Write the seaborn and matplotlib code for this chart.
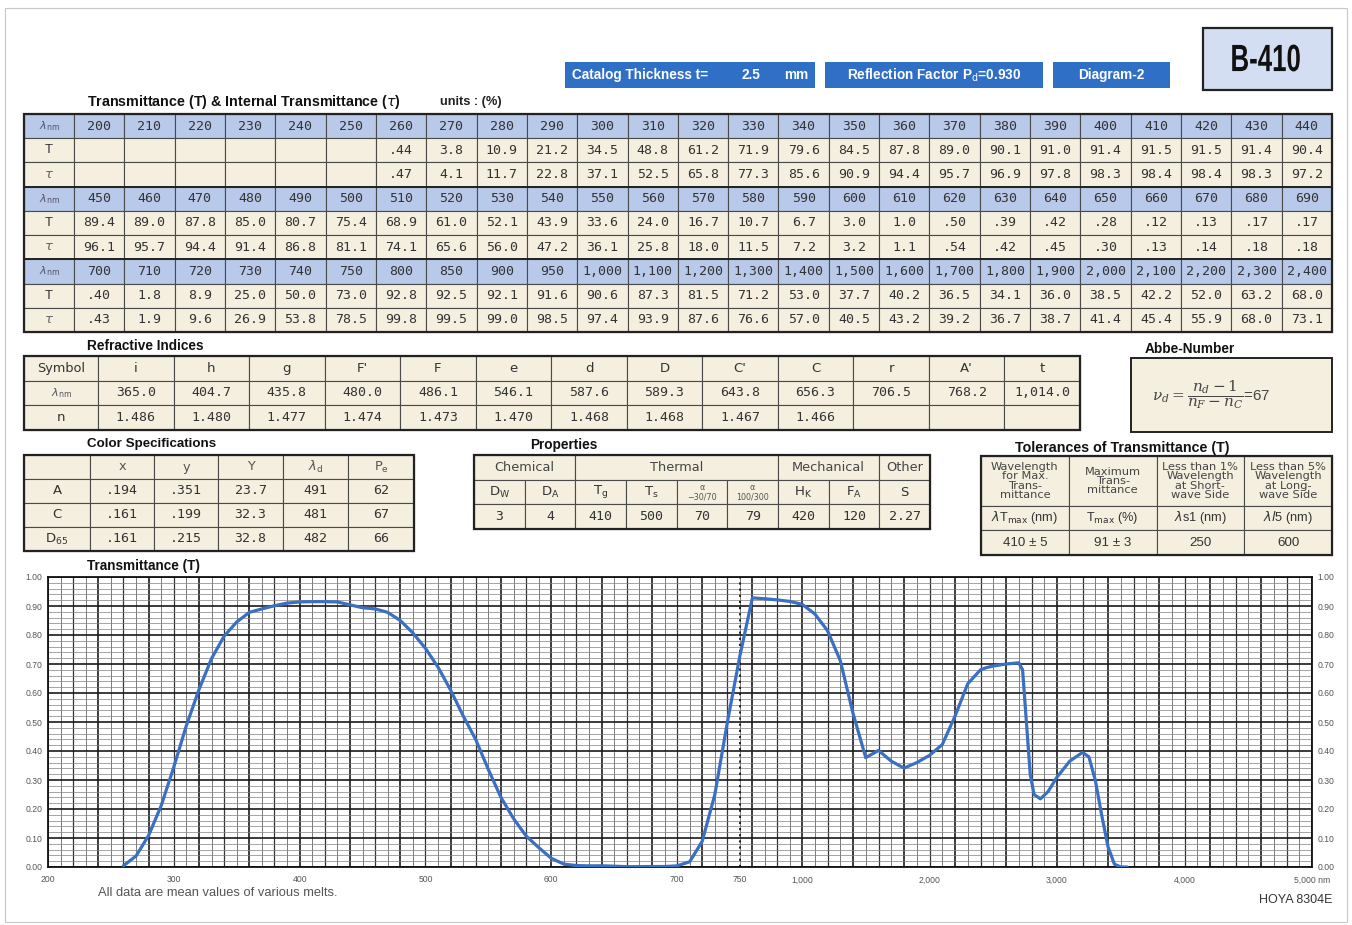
import numpy as np
import pandas as pd
import matplotlib
matplotlib.use("Agg")
import matplotlib.pyplot as plt
import seaborn as sns
from matplotlib.patches import Rectangle, PathPatch
from matplotlib.textpath import TextPath
from matplotlib.font_manager import FontProperties
from matplotlib.transforms import Affine2D

# ---------------- data ----------------
WL_ROWS = [
    [200, 210, 220, 230, 240, 250, 260, 270, 280, 290, 300, 310, 320,
     330, 340, 350, 360, 370, 380, 390, 400, 410, 420, 430, 440],
    [450, 460, 470, 480, 490, 500, 510, 520, 530, 540, 550, 560, 570,
     580, 590, 600, 610, 620, 630, 640, 650, 660, 670, 680, 690],
    [700, 710, 720, 730, 740, 750, 800, 850, 900, 950, 1000, 1100, 1200,
     1300, 1400, 1500, 1600, 1700, 1800, 1900, 2000, 2100, 2200, 2300, 2400],
]
T_ROWS = [
    [None, None, None, None, None, None, .44, 3.8, 10.9, 21.2, 34.5, 48.8, 61.2,
     71.9, 79.6, 84.5, 87.8, 89.0, 90.1, 91.0, 91.4, 91.5, 91.5, 91.4, 90.4],
    [89.4, 89.0, 87.8, 85.0, 80.7, 75.4, 68.9, 61.0, 52.1, 43.9, 33.6, 24.0, 16.7,
     10.7, 6.7, 3.0, 1.0, .50, .39, .42, .28, .12, .13, .17, .17],
    [.40, 1.8, 8.9, 25.0, 50.0, 73.0, 92.8, 92.5, 92.1, 91.6, 90.6, 87.3, 81.5,
     71.2, 53.0, 37.7, 40.2, 36.5, 34.1, 36.0, 38.5, 42.2, 52.0, 63.2, 68.0],
]
TAU_ROWS = [
    [None, None, None, None, None, None, .47, 4.1, 11.7, 22.8, 37.1, 52.5, 65.8,
     77.3, 85.6, 90.9, 94.4, 95.7, 96.9, 97.8, 98.3, 98.4, 98.4, 98.3, 97.2],
    [96.1, 95.7, 94.4, 91.4, 86.8, 81.1, 74.1, 65.6, 56.0, 47.2, 36.1, 25.8, 18.0,
     11.5, 7.2, 3.2, 1.1, .54, .42, .45, .30, .13, .14, .18, .18],
    [.43, 1.9, 9.6, 26.9, 53.8, 78.5, 99.8, 99.5, 99.0, 98.5, 97.4, 93.9, 87.6,
     76.6, 57.0, 40.5, 43.2, 39.2, 36.7, 38.7, 41.4, 45.4, 55.9, 68.0, 73.1],
]
# curve beyond the table (nm, %)
IR_WL = [2450, 2500, 2600, 2700, 2730, 2760, 2790, 2820, 2870, 2930, 3000,
         3100, 3200, 3250, 3300, 3350, 3400, 3450, 3500, 3550]
IR_T = [68.8, 69.3, 70.0, 70.4, 68.0, 50.0, 32.0, 25.0, 23.5, 26.0, 31.0,
        36.5, 39.5, 38.0, 30.0, 18.0, 7.0, 1.0, 0.0, 0.0]

RI_SYMBOLS = ["i", "h", "g", "F'", "F", "e", "d", "D", "C'", "C", "r", "A'", "t"]
RI_WL = ["365.0", "404.7", "435.8", "480.0", "486.1", "546.1", "587.6",
         "589.3", "643.8", "656.3", "706.5", "768.2", "1,014.0"]
RI_N = ["1.486", "1.480", "1.477", "1.474", "1.473", "1.470", "1.468",
        "1.468", "1.467", "1.466", "", "", ""]

CS_HEAD = ["", "x", "y", "Y", r"$\lambda_{\rm d}$", r"P$_{\rm e}$"]
CS_ROWS = [
    ["A", ".194", ".351", "23.7", "491", "62"],
    ["C", ".161", ".199", "32.3", "481", "67"],
    [r"D$_{65}$", ".161", ".215", "32.8", "482", "66"],
]

PROP_GROUPS = [("Chemical", 2), ("Thermal", 4), ("Mechanical", 2), ("Other", 1)]
PROP_HEAD = [r"D$_{\rm W}$", r"D$_{\rm A}$", r"T$_{\rm g}$", r"T$_{\rm s}$",
             "α\n−30/70", "α\n100/300", r"H$_{\rm K}$", r"F$_{\rm A}$", "S"]
PROP_VALS = ["3", "4", "410", "500", "70", "79", "420", "120", "2.27"]

TOL_HEAD = ["Wavelength\nfor Max.\nTrans-\nmittance", "Maximum\nTrans-\nmittance",
            "Less than 1%\nWavelength\nat Short-\nwave Side",
            "Less than 5%\nWavelength\nat Long-\nwave Side"]
TOL_SYM = [r"$\lambda$T$_{\rm max}$ (nm)", r"T$_{\rm max}$ (%)",
           r"$\lambda$s1 (nm)", r"$\lambda l$5 (nm)"]
TOL_VALS = ["410 ± 5", "91 ± 3", "250", "600"]

X_TICKS = [200, 300, 400, 500, 600, 700, 750, 1000, 2000, 3000, 4000, 5000]
X_LABELS = ["200", "300", "400", "500", "600", "700", "750", "1,000",
            "2,000", "3,000", "4,000", "5,000 nm"]

# ---------------- style ----------------
sns.set_style("white")
plt.rcParams["font.family"] = ["Liberation Sans", "DejaVu Sans"]
plt.rcParams["mathtext.fontset"] = "dejavusans"

BLUE = "#2f6fc6"
HEAD = "#b9c9ea"
CREAM = "#f5efdf"
LINE = "#4a4a4a"
TXT = "#333333"
CURVE = "#3a6fc2"
MONO = ["DejaVu Sans Mono"]
WIDE = ["DejaVu Sans"]

W, H = 1352, 925
fig = plt.figure(figsize=(W / 100, H / 100), dpi=100)
page = fig.add_axes([0, 0, 1, 1])
page.set_xlim(0, W)
page.set_ylim(H, 0)
page.axis("off")


def fmt_pct(v):
    if v is None:
        return ""
    return f"{v:.2f}"[1:] if v < 1 else f"{v:.1f}"


def cell(x0, y0, x1, y1, text="", fc=CREAM, size=9.5, family=None, color=TXT, **kw):
    page.add_patch(Rectangle((x0, y0), x1 - x0, y1 - y0, fc=fc, ec=LINE, lw=0.8))
    if text:
        page.text((x0 + x1) / 2, (y0 + y1) / 2, text, ha="center", va="center",
                  fontsize=size, family=family or plt.rcParams["font.family"],
                  color=color, **kw)


def frame(x0, y0, x1, y1, lw=1.6):
    page.add_patch(Rectangle((x0, y0), x1 - x0, y1 - y0, fc="none", ec="#222", lw=lw))


def heading(x, y, s, ha="left", size=9.8):
    page.text(x, y, s, ha=ha, va="center", fontsize=size, fontweight="bold", color="#111")


def squeezed(xc, yc, s, em_px, sx, color):
    # condensed bold lettering (no narrow face installed)
    tp = TextPath((0, 0), s, size=1, prop=FontProperties(family="Liberation Sans",
                                                         weight="bold"))
    ext = tp.get_extents()
    tr = (Affine2D().translate(-(ext.x0 + ext.x1) / 2, -(ext.y0 + ext.y1) / 2)
          .scale(em_px * sx, -em_px).translate(xc, yc))
    page.add_patch(PathPatch(tp, transform=tr + page.transData, fc=color, ec="none"))


page.add_patch(Rectangle((5, 8), 1342, 914, fc="none", ec="#c8c8c8", lw=0.8))

# ---------------- header boxes ----------------
for x0, x1 in [(565, 815), (825, 1043), (1053, 1170)]:
    page.add_patch(Rectangle((x0, 62), x1 - x0, 26, fc=BLUE, ec="none"))
hk = dict(va="center", color="white", fontsize=9.8, fontweight="bold")
page.text(572, 75, "Catalog Thickness t=", ha="left", **hk)
page.text(751, 75, "2.5", ha="center", **hk)
page.text(808, 75, "mm", ha="right", **hk)
page.text(934, 75, r"Reflection Factor P$_{\rm d}$=0.930", ha="center", **hk)
page.text(1111, 75, "Diagram-2", ha="center", **hk)
page.add_patch(Rectangle((1203, 28), 129, 62, fc="#d4def2", ec="#222", lw=1.6))
squeezed(1266, 58, "B-410", 38, 0.68, "#111")

# ---------------- transmittance table ----------------
heading(87, 102, r"Transmittance (T) & Internal Transmittance ($\tau$)", size=10.3)
page.text(440, 102, "units : (%)", ha="left", va="center", fontsize=9.2,
          fontweight="bold", color="#222")
ys = np.linspace(114, 332, 10)
xs = np.linspace(74, 1332, 26)
lam_lbl = r"$\lambda_{\rm nm}$"
for b in range(3):
    r0 = 3 * b
    cell(24, ys[r0], 74, ys[r0 + 1], lam_lbl, fc=HEAD, size=8, color="#556")
    cell(24, ys[r0 + 1], 74, ys[r0 + 2], "T", size=9.5)
    cell(24, ys[r0 + 2], 74, ys[r0 + 3], r"$\tau$", size=9.5, color="#666")
    for c in range(25):
        cell(xs[c], ys[r0], xs[c + 1], ys[r0 + 1], f"{WL_ROWS[b][c]:,}",
             fc=HEAD, family=MONO)
        cell(xs[c], ys[r0 + 1], xs[c + 1], ys[r0 + 2], fmt_pct(T_ROWS[b][c]), family=MONO)
        cell(xs[c], ys[r0 + 2], xs[c + 1], ys[r0 + 3], fmt_pct(TAU_ROWS[b][c]), family=MONO)
    page.plot([24, 1332], [ys[r0], ys[r0]], color="#222", lw=1.4)
frame(24, 114, 1332, 332)

# ---------------- refractive indices ----------------
heading(87, 346, "Refractive Indices")
ry = np.linspace(356, 430, 4)
rx = np.linspace(98, 1080, 14)
cell(24, ry[0], 98, ry[1], "Symbol", size=9.3, family=WIDE)
cell(24, ry[1], 98, ry[2], lam_lbl, size=8, color="#556")
cell(24, ry[2], 98, ry[3], "n", size=9.5, family=WIDE)
for c in range(13):
    cell(rx[c], ry[0], rx[c + 1], ry[1], RI_SYMBOLS[c], size=9.5, family=WIDE)
    cell(rx[c], ry[1], rx[c + 1], ry[2], RI_WL[c], family=MONO)
    cell(rx[c], ry[2], rx[c + 1], ry[3], RI_N[c], family=MONO)
frame(24, 356, 1080, 430)

# ---------------- Abbe number ----------------
heading(1190, 349, "Abbe-Number", ha="center")
page.add_patch(Rectangle((1131, 358), 201, 74, fc=CREAM, ec="#222", lw=1.4))
page.text(1211, 395, r"$\nu_d=\dfrac{n_d-1}{n_F-n_C}$=67", ha="center", va="center",
          fontsize=11, color="#444", math_fontfamily="dejavuserif")

# ---------------- colour specifications ----------------
heading(87, 444, "Color Specifications", size=9.6)
cx = [24, 90, 154, 218, 283, 348, 414]
cy = np.linspace(455, 551, 5)
for c in range(6):
    cell(cx[c], cy[0], cx[c + 1], cy[1], CS_HEAD[c], size=9.3, color="#555", family=WIDE)
for r, row in enumerate(CS_ROWS):
    for c in range(6):
        cell(cx[c], cy[r + 1], cx[c + 1], cy[r + 2], row[c],
             family=MONO if c else WIDE, size=9.5)
frame(24, 455, 414, 551)

# ---------------- properties ----------------
heading(530, 445, "Properties")
px = np.linspace(474, 930, 10)
py = np.linspace(455, 529, 4)
c0 = 0
for name, span in PROP_GROUPS:
    cell(px[c0], py[0], px[c0 + span], py[1], name, size=9.3, color="#444", family=WIDE)
    c0 += span
for c in range(9):
    small = "\n" in PROP_HEAD[c]
    cell(px[c], py[1], px[c + 1], py[2], PROP_HEAD[c], size=5.8 if small else 9.5,
         color="#555" if small else TXT, linespacing=1.1, family=WIDE)
    cell(px[c], py[2], px[c + 1], py[3], PROP_VALS[c], family=MONO)
frame(474, 455, 930, 529)

# ---------------- tolerances ----------------
heading(1122, 448, "Tolerances of Transmittance (T)", ha="center", size=10.3)
tx = np.linspace(981, 1332, 5)
ty = [456, 506, 530, 555]
for c in range(4):
    cell(tx[c], ty[0], tx[c + 1], ty[1], TOL_HEAD[c], size=8.2, color="#444",
         linespacing=0.88, family=WIDE)
    cell(tx[c], ty[1], tx[c + 1], ty[2], TOL_SYM[c], size=9.2, color="#333")
    cell(tx[c], ty[2], tx[c + 1], ty[3], TOL_VALS[c], size=9.6, color="#333")
frame(981, 456, 1332, 555)

# ---------------- transmittance diagram ----------------
heading(87, 566, "Transmittance (T)")

BX = [200, 750, 1000, 5000]
BU = [0.0, 692.0, 754.0, 1264.0]
BXe = [200 - 1e5] + BX + [5000 + 1e6]
BUe = [-1e5 * 692 / 550] + BU + [1264 + 1e6 * 510 / 4000]


def fwd(x):
    return np.interp(np.asarray(x, float), BXe, BUe)


def inv(u):
    return np.interp(np.asarray(u, float), BUe, BXe)


wl_all = [w for row in WL_ROWS for w in row] + IR_WL
t_all = [t for row in T_ROWS for t in row] + IR_T
curve = pd.DataFrame({"wl": wl_all, "T": t_all}).dropna()
curve["T"] = curve["T"] / 100.0

ax = fig.add_axes([48 / W, 1 - 867 / H, 1264 / W, 290 / H])
ax.set_xscale("function", functions=(fwd, inv))
ax.set_xlim(200, 5000)
ax.set_ylim(0, 1)

gx = np.r_[np.arange(200, 750, 10), np.arange(750, 1000, 50), np.arange(1000, 5001, 100)]
for i, g in enumerate(gx):
    if i % 4 == 0:
        lw, col = 1.2, "#1a1a1a"
    elif i % 2 == 0:
        lw, col = 0.9, "#333"
    else:
        lw, col = 0.6, "#666"
    ax.axvline(g, color=col, lw=lw, zorder=1)
for j, g in enumerate(np.arange(0, 1.0001, 0.02)):
    major = j % 5 == 0
    ax.axhline(g, color="#1a1a1a" if major else "#808080", lw=1.2 if major else 0.5,
               zorder=1)

ax.axvline(750, color="#111", lw=1.3, ls=(0, (1.2, 2.2)), zorder=2)
sns.lineplot(data=curve, x="wl", y="T", color=CURVE, lw=2.3, ax=ax, zorder=3)

ax.set_xticks(X_TICKS)
ax.set_xticklabels(X_LABELS)
ax.set_yticks(np.arange(0, 1.01, 0.1))
ax.set_yticklabels([f"{v:.2f}" for v in np.arange(0, 1.01, 0.1)])
ax.tick_params(length=0, labelsize=6.2, colors="#555", labelright=True, pad=4)
ax.tick_params(axis="x", pad=6)
ax.set_xlabel("")
ax.set_ylabel("")
for s in ax.spines.values():
    s.set_color("#111")
    s.set_linewidth(1.3)

page.text(98, 893, "All data are mean values of various melts.", ha="left",
          va="center", fontsize=9.3, color="#555")
page.text(1332, 900, "HOYA 8304E", ha="right", va="center", fontsize=9, color="#333")

fig.savefig("out.png", dpi=100, facecolor="white")
